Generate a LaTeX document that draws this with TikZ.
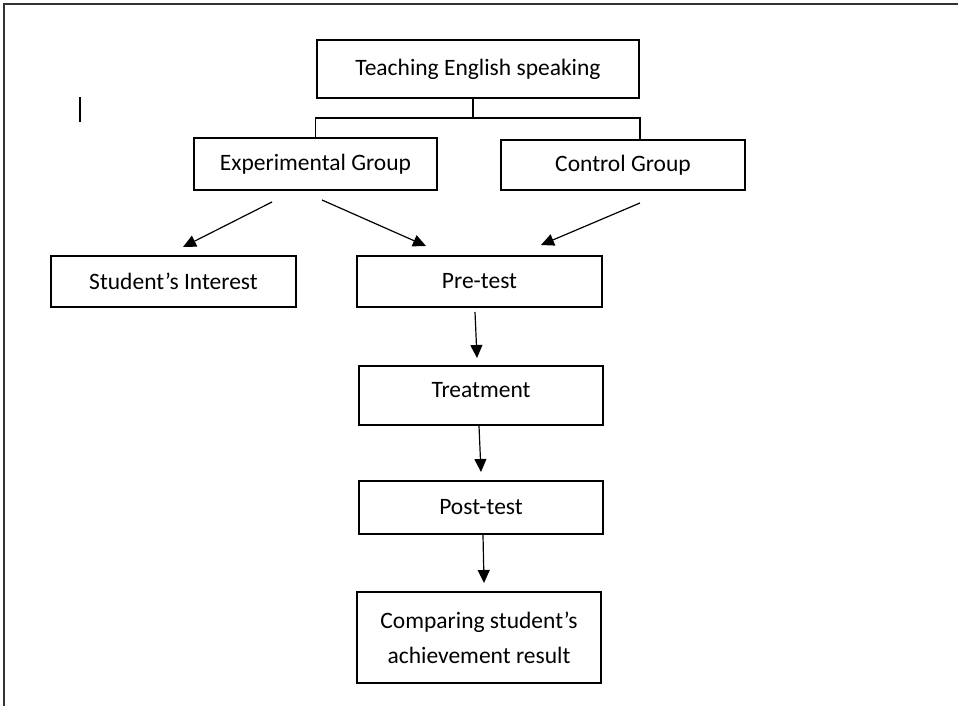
\documentclass[tikz,border=0pt]{standalone}
\usepackage{fontspec}
\setmainfont{Carlito}
\usetikzlibrary{arrows.meta}
\begin{document}
\begin{tikzpicture}[x=1pt,y=-1pt,
  box/.style={draw, line width=1.3pt, inner sep=0pt, outer sep=0pt, align=center,
    font=\fontsize{23.5}{35}\selectfont},
  conn/.style={line width=1.2pt},
  arr/.style={line width=1.2pt, -{Triangle[length=13pt,width=12pt]}}]
\useasboundingbox (0,0) rectangle (958,706);
% page frame
\draw[line width=2pt, black!80] (4,706) -- (4,4) -- (958,4);
% cursor mark
\draw[line width=1.3pt] (80,97) -- (80,122);
% boxes
\node[box, minimum width=322pt, minimum height=58pt] (teach) at (478,69) {Teaching English speaking};
\node[box, minimum width=243pt, minimum height=52pt] (exp) at (315.5,164) {Experimental Group};
\node[box, minimum width=244pt, minimum height=50pt] (ctrl) at (623,165) {Control Group};
\node[box, minimum width=245pt, minimum height=51pt] (int) at (173.5,281.5) {Student’s Interest};
\node[box, minimum width=245pt, minimum height=51pt] (pre) at (479.5,281.5) {Pre-test};
\node[box, minimum width=244pt, minimum height=59pt, text depth=12pt] (treat) at (481,395.5) {Treatment};
\node[box, minimum width=244pt, minimum height=53pt] (post) at (481,507.5) {Post-test};
\node[box, minimum width=244pt, minimum height=91pt] (comp) at (479,637.5) {Comparing student’s\\achievement result};
% tree connector
\coordinate (j) at (473,118);
\draw[conn] ([xshift=-5pt]teach.south) -- (j);
\draw[conn] (exp.north) |- (j) -| ([xshift=17pt]ctrl.north);
% diagonal arrows
\coordinate (e1) at (272,202);
\coordinate (i1) at (183,247);
\coordinate (e2) at (322,200);
\coordinate (p1) at (426,246);
\coordinate (c1) at (640,203);
\coordinate (p2) at (541,245);
\draw[arr] (e1) -- (i1);
\draw[arr] (e2) -- (p1);
\draw[arr] (c1) -- (p2);
% vertical arrows
\coordinate (pb) at (475,312);
\coordinate (tt) at (477,358);
\coordinate (tb) at (479,426);
\coordinate (pt) at (481,472);
\coordinate (ob) at (483,535);
\coordinate (ct) at (484,583);
\draw[arr] (pb) -- (tt);
\draw[arr] (tb) -- (pt);
\draw[arr] (ob) -- (ct);
\end{tikzpicture}
\end{document}
